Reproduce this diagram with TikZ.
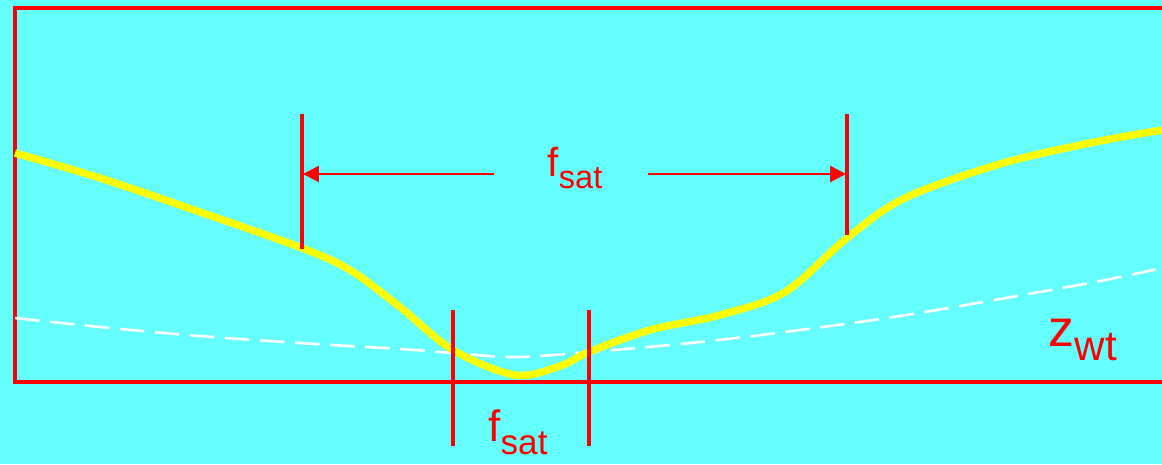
\documentclass[tikz,border=0pt]{standalone}
\usepackage{fontspec}
\setmainfont{Liberation Sans}
\usetikzlibrary{arrows.meta}
\definecolor{bg}{HTML}{66FFFF}
\definecolor{rd}{HTML}{FF0000}
\definecolor{yl}{HTML}{FFFF00}
\tikzset{
  redline/.style={draw=rd,line width=1.8pt},
  dimarrow/.style={draw=rd,line width=1.5pt,-{Triangle[length=9pt,width=9pt]}},
  lbl/.style={text=rd,inner sep=0pt},
}
\newcommand{\fsatA}{{\fontsize{23}{23}\selectfont f\raisebox{-0.3em}{\fontsize{18.5}{18.5}\selectfont sat}}}
\newcommand{\fsatB}{{\fontsize{25}{25}\selectfont f\raisebox{-0.3em}{\fontsize{20}{20}\selectfont sat}}}
\begin{document}
\begin{tikzpicture}[x=0.02cm,y=-0.02cm]
\fill[bg] (0,0) rectangle (1162,464);
\useasboundingbox (0,0) rectangle (1162,464);
% frame
\draw[redline] (1170,8) -- (15,8) -- (15,382) -- (1170,382);
% water table (dashed)
\draw[white,line width=1.5pt,dash pattern=on 14pt off 6pt]
  plot[smooth,tension=0.6] coordinates {(15,318) (100,327) (200,336) (300,343) (400,349) (453,353) (515,357) (589,352) (700,342) (800,330) (900,316) (1000,299) (1100,281) (1162,268)};
% surface (yellow)
\draw[yl,line width=4.2pt]
  plot[smooth,tension=0.55] coordinates {(15,153) (100,178) (200,212) (302,248) (350,270) (400,307) (453,350) (515,375) (560,366) (589,352) (650,330) (720,315) (785,292) (847,238) (905,198) (1000,164) (1090,143) (1162,130)};
% upper dimension
\coordinate (l1t) at (302,114); \coordinate (l1b) at (302,249);
\coordinate (r1t) at (847,114); \coordinate (r1b) at (847,235);
\draw[redline] (l1t) -- (l1b);
\draw[redline] (r1t) -- (r1b);
\coordinate (l1m) at (303,174); \coordinate (r1m) at (846,174);
\coordinate (a1) at (494,174); \coordinate (a2) at (648,174);
\draw[dimarrow] (a1) -- (l1m);
\draw[dimarrow] (a2) -- (r1m);
\node[lbl] (fs1) at (575,168) {\fsatA};
% lower dimension
\coordinate (l2t) at (453,310); \coordinate (l2b) at (453,446);
\coordinate (r2t) at (589,310); \coordinate (r2b) at (589,446);
\draw[redline] (l2t) -- (l2b);
\draw[redline] (r2t) -- (r2b);
\node[lbl] (fs2) at (518,432) {\fsatB};
% z_wt
\node[lbl] (zwt) at (1083,340) {{\fontsize{29.5}{29.5}\selectfont z\raisebox{-0.28em}{\fontsize{24}{24}\selectfont wt}}};
\end{tikzpicture}
\end{document}
